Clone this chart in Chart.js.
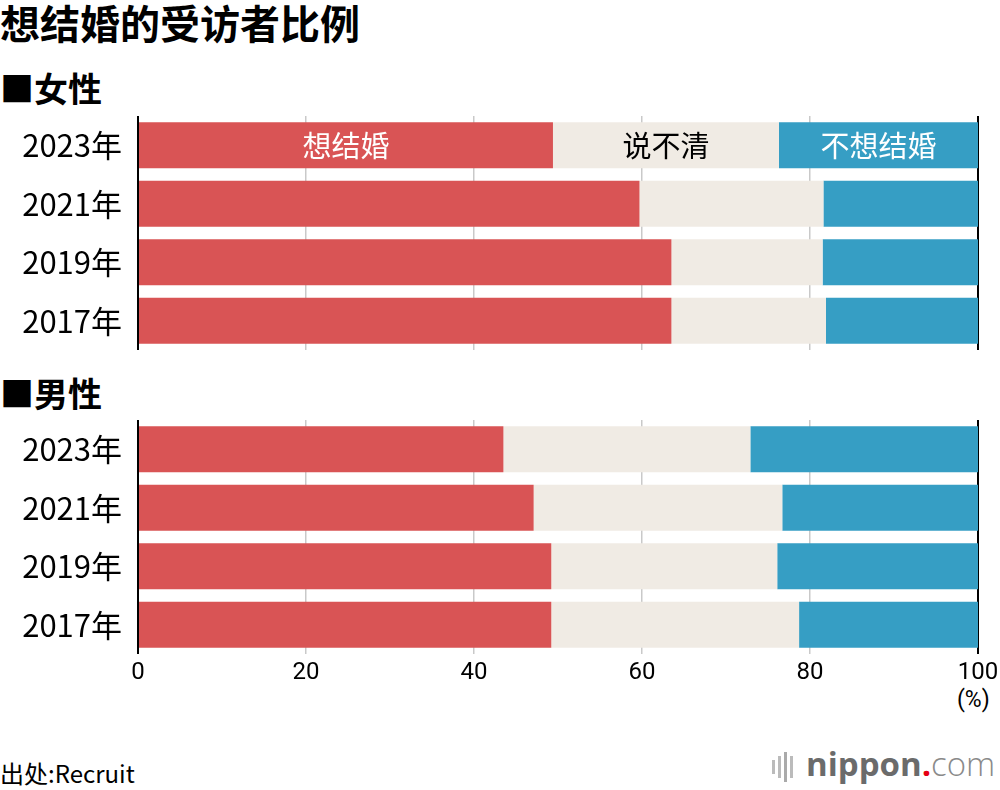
<!DOCTYPE html>
<html>
<head>
<meta charset="utf-8">
<script src="https://cdn.jsdelivr.net/npm/chart.js@4.4.1/dist/chart.umd.min.js"></script>
<style>
  body { margin: 0; background: #fff; font-family: "Noto Sans CJK SC", sans-serif; }
  #page { position: relative; width: 1000px; height: 790px; overflow: hidden; }
  .txt { position: absolute; white-space: nowrap; color: #000; }
  canvas { position: absolute; left: 0; }
</style>
</head>
<body>
<div id="page">
  <div class="txt" style="left:0;top:-5px;font-size:40px;font-weight:700;line-height:54px;">想结婚的受访者比例</div>
  <div class="txt" style="left:0;top:65px;font-size:34px;font-weight:700;line-height:46px;">■女性</div>
  <div class="txt" style="left:0;top:370px;font-size:34px;font-weight:700;line-height:46px;">■男性</div>
  <div class="txt" style="left:957px;top:686px;font-size:23px;line-height:28px;font-family:'Liberation Sans Narrow','Roboto',sans-serif;">(%)</div>
  <div class="txt" style="left:0;top:757px;font-size:24px;line-height:32px;">出处:Recruit</div>
  <div class="txt" style="left:772px;top:748px;height:36px;">
    <span style="position:absolute;left:0;top:12px;width:3px;height:14px;background:#bbb;"></span>
    <span style="position:absolute;left:6px;top:8px;width:3px;height:22px;background:#bbb;"></span>
    <span style="position:absolute;left:12px;top:4px;width:3px;height:30px;background:#aaa;"></span>
    <span style="position:absolute;left:18px;top:8px;width:3px;height:22px;background:#bbb;"></span>
  </div>
  <div class="txt" style="left:806px;top:742px;font-size:33px;line-height:44px;font-family:'Open Sans',sans-serif;">
    <span style="color:#6b6b6b;font-weight:700;">nippon</span><span style="color:#e60012;font-weight:700;">.</span><span style="color:#8a8a8a;font-weight:300;">com</span>
  </div>
  <canvas id="women" style="top:110px;"></canvas>
  <canvas id="men" style="top:414px;"></canvas>
</div>
<script>
const categories = ["2023年", "2021年", "2019年", "2017年"];
const seriesNames = ["想结婚", "说不清", "不想结婚"];
const womenWant = [49.4, 59.7, 63.5, 63.5];
const womenUnsure = [26.9, 21.9, 18.0, 18.4];
const womenNot = [23.7, 18.4, 18.5, 18.1];
const menWant = [43.5, 47.1, 49.2, 49.2];
const menUnsure = [29.4, 29.6, 26.9, 29.5];
const menNot = [27.1, 23.3, 23.9, 21.3];
const xTicks = [0, 20, 40, 60, 80, 100];

const colors = ["#d95455", "#f0ebe4", "#369ec4"];
const labelColors = ["#fff", "#000", "#fff"];

// writes the series names inside the first bar row
const barLabels = {
    id: "barLabels",
    afterDatasetsDraw(chart, args, opts) {
        if (!opts.show) return;
        const ctx = chart.ctx;
        ctx.save();
        ctx.font = "29px 'Noto Sans CJK SC'";
        ctx.textAlign = "center";
        ctx.textBaseline = "middle";
        chart.data.datasets.forEach((ds, i) => {
            const bar = chart.getDatasetMeta(i).data[0];
            const left = Math.min(bar.x, bar.base);
            const right = Math.max(bar.x, bar.base);
            ctx.fillStyle = labelColors[i];
            ctx.fillText(ds.label, (left + right) / 2, bar.y + 1);
        });
        ctx.restore();
    }
};

function makeChart(id, height, values, showTicks, showLabels, padBottom) {
    const canvas = document.getElementById(id);
    canvas.width = 1000;
    canvas.height = height;
    canvas.style.width = "1000px";
    canvas.style.height = height + "px";

    return new Chart(canvas, {
        type: "bar",
        data: {
            labels: categories,
            datasets: values.map((v, i) => ({
                label: seriesNames[i],
                data: v,
                backgroundColor: colors[i],
                borderWidth: 0,
                categoryPercentage: 1,
                barPercentage: 0.79
            }))
        },
        options: {
            indexAxis: "y",
            responsive: false,
            animation: false,
            devicePixelRatio: 1,
            layout: { padding: { top: 6, right: 22, bottom: padBottom, left: 0 } },
            plugins: {
                legend: { display: false },
                tooltip: { enabled: false },
                barLabels: { show: showLabels }
            },
            scales: {
                x: {
                    stacked: true,
                    min: 0,
                    max: 100,
                    afterBuildTicks: s => { s.ticks = xTicks.map(v => ({ value: v })); },
                    border: { display: false },
                    grid: {
                        drawTicks: false,
                        color: c => (c.tick && (c.tick.value === 0 || c.tick.value === 100)) ? "#000" : "#c9c9c9",
                        lineWidth: c => (c.tick && (c.tick.value === 0 || c.tick.value === 100)) ? 2 : 1.5
                    },
                    ticks: {
                        display: showTicks,
                        padding: 5,
                        color: "#000",
                        maxRotation: 0,
                        font: { family: "'Liberation Sans Narrow', Roboto, sans-serif", size: 24 }
                    },
                    afterFit: s => {
                        s.height = showTicks ? 30 : 0;
                        s.paddingLeft = 0;
                        s.paddingRight = 0;
                    }
                },
                y: {
                    stacked: true,
                    border: { display: false },
                    grid: { display: false, drawTicks: false },
                    ticks: {
                        padding: 16,
                        color: "#000",
                        font: { family: "'Noto Sans CJK SC'", size: 31 }
                    },
                    afterFit: s => {
                        s.width = 138;
                        s.paddingTop = 0;
                        s.paddingBottom = 0;
                    }
                }
            }
        },
        plugins: [barLabels]
    });
}

makeChart("women", 246, [womenWant, womenUnsure, womenNot], false, true, 6);
makeChart("men", 290, [menWant, menUnsure, menNot], true, false, 20);
</script>
</body>
</html>
